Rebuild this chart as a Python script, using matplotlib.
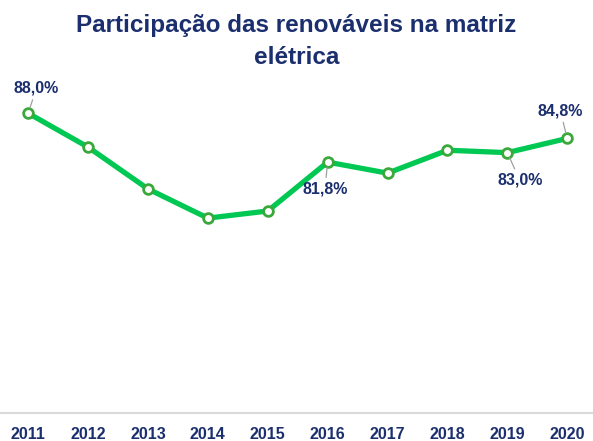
import matplotlib.pyplot as plt
plt.switch_backend('agg')

# Renewable share of the Brazilian electricity matrix (%)
years = [2011, 2012, 2013, 2014, 2015, 2016, 2017, 2018, 2019, 2020]
share = [88.0, 83.7, 78.4, 74.7, 75.6, 81.8, 80.4, 83.3, 83.0, 84.8]
tick_labels = [str(y) for y in years]

# only some points carry a label: (year, text, offset in points)
labelled = {2011: (6, 18), 2016: (-2, -19.5), 2019: (9, -20), 2020: (-5, 20)}

navy = '#1b2f6e'
green = '#00c853'
edge = '#3aa83a'

plt.rcParams['font.family'] = ['Liberation Sans', 'DejaVu Sans']

fig = plt.figure(figsize=(5.93, 4.41), dpi=100)
ax = fig.add_axes([0, 0.0635, 1, 0.755])

ax.plot(years, share, color=green, linewidth=3.8, zorder=2)
ax.plot(years, share, linestyle='none', marker='o', markersize=7,
        markerfacecolor='white', markeredgecolor=edge, markeredgewidth=2,
        zorder=3)

for yr, val in zip(years, share):
    if yr in labelled:
        dx, dy = labelled[yr]
        txt = ('%.1f%%' % val).replace('.', ',')
        ax.annotate(txt, xy=(yr, val), xytext=(dx, dy),
                    textcoords='offset points', ha='center', va='center',
                    fontsize=11.5, fontweight='bold', color=navy,
                    arrowprops=dict(arrowstyle='-', color='#a0a0a0', lw=0.9,
                                    shrinkA=1, shrinkB=4))

ax.set_xlim(2010.53, 2020.43)
ax.set_ylim(50, 92.2)
ax.set_xticks(years)
ax.set_xticklabels(tick_labels, fontsize=11.5, fontweight='bold', color=navy)
ax.tick_params(axis='x', length=0, pad=10)
ax.set_yticks([])
for s in ['top', 'left', 'right']:
    ax.spines[s].set_visible(False)
ax.spines['bottom'].set_color('#d9d9d9')
ax.spines['bottom'].set_linewidth(1.5)

fig.text(0.5, 0.907, 'Participação das renováveis na matriz\nelétrica',
         ha='center', va='center', fontsize=17.5, fontweight='bold',
         color=navy, linespacing=1.5)

plt.savefig('out.png', dpi=100)
